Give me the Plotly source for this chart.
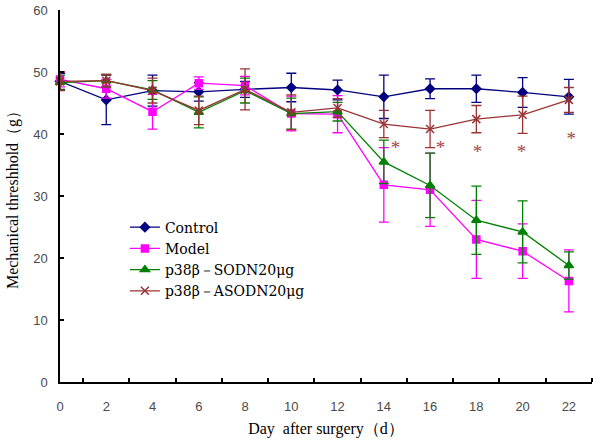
import plotly.graph_objects as go

days = [0, 2, 4, 6, 8, 10, 12, 14, 16, 18, 20, 22]

control = [48.5, 45.5, 47.0, 46.8, 47.2, 47.5, 47.1, 46.0, 47.3, 47.3, 46.7, 46.0]
control_err = [1.3, 4.0, 2.5, 1.5, 1.3, 2.3, 1.6, 3.5, 1.6, 2.2, 2.4, 2.8]

model = [48.8, 47.3, 43.6, 48.2, 47.8, 43.3, 43.2, 31.8, 31.0, 23.0, 21.1, 16.3]
model_err = [1.2, 1.5, 2.8, 1.0, 1.5, 2.8, 3.0, 6.0, 5.9, 6.3, 4.4, 5.0]

sodn = [48.3, 48.6, 47.1, 43.5, 47.0, 43.3, 43.6, 35.5, 31.7, 26.1, 24.2, 18.8]
sodn_err = [1.2, 1.0, 1.5, 2.5, 2.0, 2.5, 1.5, 3.5, 5.2, 5.5, 5.0, 2.2]

asodn = [48.5, 48.6, 47.0, 43.8, 47.2, 43.5, 44.2, 41.6, 40.8, 42.4, 43.1, 45.5]
asodn_err = [1.5, 1.0, 2.0, 2.3, 3.3, 2.8, 1.5, 2.2, 3.0, 2.2, 3.0, 2.0]

star_x = [14.5, 16.45, 18.05, 19.95, 22.1]
star_y = [37.6, 37.6, 36.9, 36.9, 39.0]

x_tick_vals = [0, 2, 4, 6, 8, 10, 12, 14, 16, 18, 20, 22]
x_tick_text = [str(v) for v in x_tick_vals]
y_tick_vals = [0, 10, 20, 30, 40, 50, 60]

names = ["Control", "Model", "p38β－SODN20μg", "p38β－ASODN20μg"]
colors = ["#000080", "#ff00ff", "#008000", "#993333"]
symbols = ["diamond", "square", "triangle-up", "x-thin"]
sizes = [7, 7, 8, 8]

fig = go.Figure()
for vals, errs, name, col, sym, sz in zip(
    [control, model, sodn, asodn],
    [control_err, model_err, sodn_err, asodn_err],
    names, colors, symbols, sizes,
):
    fig.add_trace(go.Scatter(
        x=days, y=vals, name=name, mode="lines+markers",
        line=dict(color=col, width=1.3),
        marker=dict(symbol=sym, size=sz, color=col,
                    line=dict(color=col, width=1.5)),
        error_y=dict(type="data", array=errs, visible=True,
                     color=col, thickness=1.3, width=5),
        cliponaxis=False,
    ))

fig.add_trace(go.Scatter(
    x=star_x, y=star_y, mode="text", text=["*"] * len(star_x),
    textfont=dict(color="#a04545", size=19, family="Liberation Serif"),
    showlegend=False, cliponaxis=False,
))

fig.update_layout(
    width=600, height=445,
    margin=dict(l=60, r=8, t=10, b=63),
    paper_bgcolor="white", plot_bgcolor="white",
    font=dict(family="Liberation Serif", color="black"),
    showlegend=True,
    legend=dict(
        x=0.122, y=0.458, xanchor="left", yanchor="top",
        font=dict(size=14, family="DejaVu Serif", color="black"),
        bgcolor="rgba(0,0,0,0)", tracegroupgap=0,
    ),
)

fig.update_xaxes(
    range=[0, 23], showgrid=False, zeroline=False, automargin=False,
    showline=True, linecolor="black", linewidth=1.5,
    tickmode="array", tickvals=x_tick_vals, ticktext=x_tick_text,
    ticks="", ticklabelstandoff=12,
    minor=dict(tick0=1, dtick=2, ticks="inside", ticklen=4,
               tickcolor="black", tickwidth=1.5, showgrid=False),
    tickfont=dict(size=13, color="#4a4a4a", family="Liberation Sans"),
    title=dict(text="Day  after surgery（d）",
               font=dict(size=16, family="Liberation Serif", color="black"),
               standoff=9),
)
fig.update_yaxes(
    range=[0, 60], showgrid=False, zeroline=False, automargin=False,
    showline=True, linecolor="black", linewidth=1.5,
    tickmode="array", tickvals=y_tick_vals,
    ticks="inside", ticklen=4, tickwidth=1.5, tickcolor="black",
    ticklabelstandoff=8,
    tickfont=dict(size=13, color="#4a4a4a", family="Liberation Sans"),
    title=dict(text="Mechanical threshhold（g）",
               font=dict(size=16, family="Liberation Serif", color="black"),
               standoff=11),
)

fig.write_html("out.html", config={"displayModeBar": False},
               post_script="document.body.style.margin='0';")
